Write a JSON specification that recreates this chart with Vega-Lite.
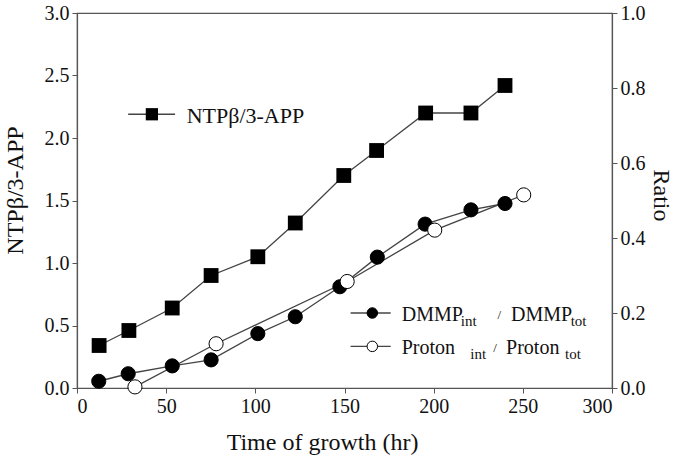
{
  "$schema": "https://vega.github.io/schema/vega-lite/v6.json",
  "width": 535,
  "height": 375,
  "autosize": {"type": "none"},
  "padding": {"left": 77, "top": 13, "right": 63, "bottom": 76},
  "background": "white",
  "config": {
    "font": "Times New Roman, Liberation Serif, serif",
    "text": {"font": "Times New Roman, Liberation Serif, serif"},
    "view": {"stroke": "#555", "strokeWidth": 1.2},
    "axis": {
      "grid": false,
      "labelFont": "Times New Roman, Liberation Serif, serif",
      "titleFont": "Times New Roman, Liberation Serif, serif",
      "labelFontSize": 20,
      "titleFontSize": 24,
      "titleFontWeight": "normal",
      "labelColor": "#111",
      "titleColor": "#111",
      "domainColor": "#555",
      "domainWidth": 1.2,
      "tickColor": "#555",
      "tickSize": 5,
      "labelPadding": 3
    }
  },
  "datasets": {
    "ntp": [
      {"t": 12.4, "v": 0.34},
      {"t": 29.1, "v": 0.46},
      {"t": 53.4, "v": 0.64},
      {"t": 75.2, "v": 0.9},
      {"t": 101.4, "v": 1.05},
      {"t": 122.4, "v": 1.32},
      {"t": 149.6, "v": 1.7},
      {"t": 168.0, "v": 1.9},
      {"t": 195.5, "v": 2.2},
      {"t": 220.9, "v": 2.2},
      {"t": 240.0, "v": 2.42}
    ],
    "ratio": [
      {"series": "DMMP", "t": 12.2, "r": 0.018},
      {"series": "DMMP", "t": 28.7, "r": 0.038},
      {"series": "DMMP", "t": 53.4, "r": 0.059},
      {"series": "DMMP", "t": 75.2, "r": 0.075},
      {"series": "DMMP", "t": 101.4, "r": 0.145},
      {"series": "DMMP", "t": 122.4, "r": 0.19},
      {"series": "DMMP", "t": 147.4, "r": 0.27},
      {"series": "DMMP", "t": 168.4, "r": 0.349},
      {"series": "DMMP", "t": 195.2, "r": 0.437},
      {"series": "DMMP", "t": 220.9, "r": 0.475},
      {"series": "DMMP", "t": 240.0, "r": 0.492},
      {"series": "Proton", "t": 32.5, "r": 0.003},
      {"series": "Proton", "t": 78.0, "r": 0.118},
      {"series": "Proton", "t": 151.5, "r": 0.284},
      {"series": "Proton", "t": 200.6, "r": 0.421},
      {"series": "Proton", "t": 250.5, "r": 0.515}
    ],
    "ntpLegend": [
      {"t": 28.7, "t2": 55.0, "tm": 42.0, "v": 2.19, "label": "NTPβ/3-APP", "tx": 61.5}
    ],
    "ratioLegend": [
      {"series": "DMMP", "t": 153.4, "t2": 175.9, "tm": 165.6, "r": 0.2},
      {"series": "Proton", "t": 153.4, "t2": 175.9, "tm": 165.6, "r": 0.111}
    ],
    "ratioLegendText": [
      {"part": "main", "label": "DMMP", "t": 182.1, "r": 0.2},
      {"part": "sub", "label": "int", "t": 215.2, "r": 0.2},
      {"part": "slash", "label": "/", "t": 236.8, "r": 0.2},
      {"part": "main", "label": "DMMP", "t": 243.4, "r": 0.2},
      {"part": "sub", "label": "tot", "t": 276.8, "r": 0.2},
      {"part": "main", "label": "Proton", "t": 182.1, "r": 0.111},
      {"part": "sub", "label": "int", "t": 220.5, "r": 0.111},
      {"part": "slash", "label": "/", "t": 234.4, "r": 0.111},
      {"part": "main", "label": "Proton", "t": 240.6, "r": 0.111},
      {"part": "sub", "label": "tot", "t": 273.7, "r": 0.111}
    ]
  },
  "encoding": {
    "x": {
      "field": "t",
      "type": "quantitative",
      "scale": {"domain": [0, 300], "nice": false},
      "axis": {"values": [0, 50, 100, 150, 200, 250, 300], "title": "Time of growth (hr)", "titlePadding": 14, "titleX": 245}
    }
  },
  "layer": [
    {
      "encoding": {
        "y": {
          "field": "v",
          "type": "quantitative",
          "scale": {"domain": [0, 3], "nice": false},
          "axis": {"orient": "left", "values": [0, 0.5, 1, 1.5, 2, 2.5, 3], "format": ".1f", "title": "NTPβ/3-APP", "titlePadding": 17, "titleY": 177}
        }
      },
      "layer": [
        {
          "data": {"name": "ntp"},
          "mark": {"type": "line", "color": "#444", "strokeWidth": 1.3}
        },
        {
          "data": {"name": "ntp"},
          "mark": {"type": "point", "shape": "square", "filled": true, "size": 220, "color": "#000", "opacity": 1}
        },
        {
          "data": {"name": "ntpLegend"},
          "mark": {"type": "rule", "color": "#444", "strokeWidth": 1.3},
          "encoding": {"x2": {"field": "t2"}}
        },
        {
          "data": {"name": "ntpLegend"},
          "mark": {"type": "point", "shape": "square", "filled": true, "size": 150, "color": "#000", "opacity": 1},
          "encoding": {"x": {"field": "tm", "type": "quantitative"}}
        },
        {
          "data": {"name": "ntpLegend"},
          "mark": {"type": "text", "align": "left", "baseline": "alphabetic", "dy": 9, "fontSize": 22, "color": "#111"},
          "encoding": {"x": {"field": "tx", "type": "quantitative"}, "text": {"field": "label"}}
        }
      ]
    },
    {
      "encoding": {
        "y": {
          "field": "r",
          "type": "quantitative",
          "scale": {"domain": [0, 1], "nice": false},
          "axis": {"orient": "right", "values": [0, 0.2, 0.4, 0.6, 0.8, 1], "format": ".1f", "title": "Ratio", "titlePadding": 3, "titleY": 182}
        }
      },
      "layer": [
        {
          "data": {"name": "ratio"},
          "mark": {"type": "line", "color": "#444", "strokeWidth": 1.3},
          "encoding": {"detail": {"field": "series"}}
        },
        {
          "data": {"name": "ratio"},
          "mark": {"type": "point", "shape": "circle", "size": 200, "stroke": "#000", "strokeWidth": 1, "opacity": 1, "filled": false},
          "encoding": {
            "fill": {"field": "series", "type": "nominal", "scale": {"domain": ["DMMP", "Proton"], "range": ["#000", "#fff"]}, "legend": null}
          }
        },
        {
          "data": {"name": "ratioLegend"},
          "mark": {"type": "rule", "color": "#444", "strokeWidth": 1.3},
          "encoding": {"x2": {"field": "t2"}}
        },
        {
          "data": {"name": "ratioLegend"},
          "mark": {"type": "point", "shape": "circle", "size": 110, "stroke": "#000", "strokeWidth": 1, "opacity": 1, "filled": false},
          "encoding": {
            "x": {"field": "tm", "type": "quantitative"},
            "fill": {"field": "series", "type": "nominal", "scale": {"domain": ["DMMP", "Proton"], "range": ["#000", "#fff"]}, "legend": null}
          }
        },
        {
          "data": {"name": "ratioLegendText"},
          "transform": [{"filter": "datum.part === 'main'"}],
          "mark": {"type": "text", "align": "left", "baseline": "alphabetic", "dy": 8, "fontSize": 20, "color": "#111"},
          "encoding": {"text": {"field": "label"}}
        },
        {
          "data": {"name": "ratioLegendText"},
          "transform": [{"filter": "datum.part === 'sub'"}],
          "mark": {"type": "text", "align": "left", "baseline": "alphabetic", "dy": 13, "fontSize": 15, "color": "#111"},
          "encoding": {"text": {"field": "label"}}
        },
        {
          "data": {"name": "ratioLegendText"},
          "transform": [{"filter": "datum.part === 'slash'"}],
          "mark": {"type": "text", "align": "center", "baseline": "alphabetic", "dy": 6, "fontSize": 13, "color": "#111"},
          "encoding": {"text": {"field": "label"}}
        }
      ]
    }
  ],
  "resolve": {"scale": {"y": "independent", "fill": "shared"}}
}
